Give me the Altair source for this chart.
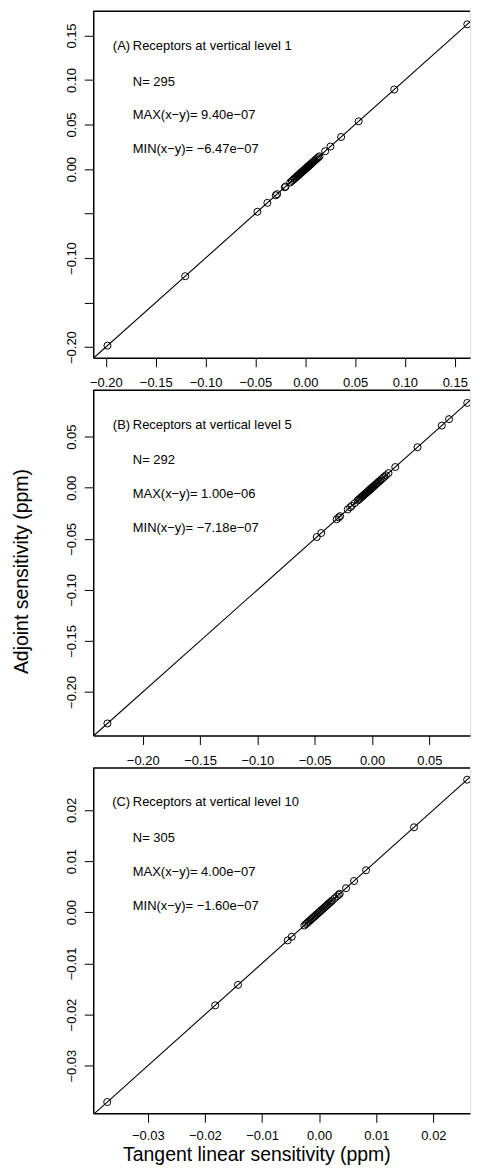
import altair as alt
import pandas as pd

FONT = "Liberation Sans"

# ---------------- data ----------------
# Panel A : receptors at vertical level 1
tangent_a = [-0.1984, -0.1204, -0.0480, -0.0380, -0.0295, -0.0282, -0.0205, -0.0197, -0.0150,
             -0.0134, -0.0122, -0.0110, -0.0100, -0.0090, -0.0082, -0.0074, -0.0066, -0.0058,
             -0.0050, -0.0043, -0.0036, -0.0030, -0.0024, -0.0018, -0.0012, -0.0007, -0.0002,
             0.0003, 0.0008, 0.0014, 0.0020, 0.0027, 0.0034, 0.0041, 0.0049, 0.0057, 0.0066,
             0.0075, 0.0085, 0.0096, 0.0108, 0.0120, 0.0132, 0.0143, 0.0200, 0.0253, 0.0360,
             0.0536, 0.0893, 0.1626]
adjoint_a = [-0.1984, -0.1204, -0.0480, -0.0380, -0.0295, -0.0282, -0.0205, -0.0197, -0.0150,
             -0.0134, -0.0122, -0.0110, -0.0100, -0.0090, -0.0082, -0.0074, -0.0066, -0.0058,
             -0.0050, -0.0043, -0.0036, -0.0030, -0.0024, -0.0018, -0.0012, -0.0007, -0.0002,
             0.0003, 0.0008, 0.0014, 0.0020, 0.0027, 0.0034, 0.0041, 0.0049, 0.0057, 0.0066,
             0.0075, 0.0085, 0.0096, 0.0108, 0.0120, 0.0132, 0.0143, 0.0200, 0.0253, 0.0360,
             0.0536, 0.0893, 0.1626]

# Panel B : receptors at vertical level 5
tangent_b = [-0.2308, -0.0482, -0.0443, -0.0308, -0.0290, -0.0278, -0.0212, -0.0191, -0.0177,
             -0.0150, -0.0125, -0.0115, -0.0106, -0.0097, -0.0089, -0.0081, -0.0073, -0.0065,
             -0.0058, -0.0051, -0.0044, -0.0037, -0.0031, -0.0025, -0.0019, -0.0013, -0.0007,
             -0.0001, 0.0005, 0.0011, 0.0018, 0.0025, 0.0033, 0.0041, 0.0050, 0.0060, 0.0071,
             0.0083, 0.0095, 0.0107, 0.0122, 0.0144, 0.0203, 0.0397, 0.0609, 0.0672, 0.0831]
adjoint_b = [-0.2308, -0.0482, -0.0443, -0.0308, -0.0290, -0.0278, -0.0212, -0.0191, -0.0177,
             -0.0150, -0.0125, -0.0115, -0.0106, -0.0097, -0.0089, -0.0081, -0.0073, -0.0065,
             -0.0058, -0.0051, -0.0044, -0.0037, -0.0031, -0.0025, -0.0019, -0.0013, -0.0007,
             -0.0001, 0.0005, 0.0011, 0.0018, 0.0025, 0.0033, 0.0041, 0.0050, 0.0060, 0.0071,
             0.0083, 0.0095, 0.0107, 0.0122, 0.0144, 0.0203, 0.0397, 0.0609, 0.0672, 0.0831]

# Panel C : receptors at vertical level 10
tangent_c = [-0.0371, -0.0182, -0.0142, -0.0055, -0.0048, -0.0026, -0.0023, -0.0021, -0.0019,
             -0.0017, -0.0015, -0.0013, -0.0011, -0.0009, -0.0007, -0.0005, -0.0003, -0.0001,
             0.0001, 0.0003, 0.0005, 0.0007, 0.0009, 0.0011, 0.0013, 0.0015, 0.0017, 0.0019,
             0.0021, 0.0023, 0.0027, 0.0031, 0.0034, 0.0036, 0.0047, 0.0061, 0.0082, 0.0166,
             0.0259]
adjoint_c = [-0.0371, -0.0182, -0.0142, -0.0055, -0.0048, -0.0026, -0.0023, -0.0021, -0.0019,
             -0.0017, -0.0015, -0.0013, -0.0011, -0.0009, -0.0007, -0.0005, -0.0003, -0.0001,
             0.0001, 0.0003, 0.0005, 0.0007, 0.0009, 0.0011, 0.0013, 0.0015, 0.0017, 0.0019,
             0.0021, 0.0023, 0.0027, 0.0031, 0.0034, 0.0036, 0.0047, 0.0061, 0.0082, 0.0166,
             0.0259]

# axis ranges and tick values
xdom_a = [-0.2127, 0.1653]
ydom_a = [-0.2120, 0.1777]
ticks_a = [-0.20, -0.15, -0.10, -0.05, 0.00, 0.05, 0.10, 0.15]
hidden_y_a = [-0.05, -0.15]

xdom_b = [-0.2432, 0.0855]
ydom_b = [-0.2426, 0.0961]
ticks_b = [-0.20, -0.15, -0.10, -0.05, 0.00, 0.05]
hidden_y_b = []

xdom_c = [-0.03955, 0.02640]
ydom_c = [-0.0393, 0.0283]
ticks_c = [-0.03, -0.02, -0.01, 0.00, 0.01, 0.02]
hidden_y_c = []

# annotation texts
panel_letters = ["(A)", "(B)", "(C)"]
panel_titles = ["Receptors at vertical level 1", "Receptors at vertical level 5",
                "Receptors at vertical level 10"]
n_texts = ["N= 295", "N= 292", "N= 305"]
max_texts = ["MAX(x\u2212y)= 9.40e\u221207", "MAX(x\u2212y)= 1.00e\u221206", "MAX(x\u2212y)= 4.00e\u221207"]
min_texts = ["MIN(x\u2212y)= \u22126.47e\u221207", "MIN(x\u2212y)= \u22127.18e\u221207",
             "MIN(x\u2212y)= \u22121.60e\u221207"]

x_title = "Tangent linear sensitivity (ppm)"
y_title = "Adjoint sensitivity (ppm)"

W = 378


def txt(s, x, y, align="left"):
    return alt.Chart(pd.DataFrame({"t": [s]})).mark_text(
        align=align, baseline="alphabetic", font=FONT, fontSize=13, color="black"
    ).encode(x=alt.value(x), y=alt.value(y), text="t:N")


def panel(i, tangent, adjoint, xdom, ydom, ticks, hidden, height, show_ytitle, show_xtitle):
    df = pd.DataFrame({"tangent": tangent, "adjoint": adjoint})
    # 1:1 line, kept inside the plotting region
    lo = max(xdom[0], ydom[0])
    hi = min(xdom[1], ydom[1])
    line_df = pd.DataFrame({"tangent": [lo, hi], "adjoint": [lo, hi]})

    if hidden:
        cond = " || ".join(f"abs(datum.value - ({v})) < 1e-9" for v in hidden)
        ylabel_expr = f"({cond}) ? '' : datum.label"
    else:
        ylabel_expr = "datum.label"

    common = dict(
        values=ticks, format=".2f", grid=False,
        domainColor="black", domainWidth=1.5,
        tickColor="black", tickWidth=1, tickSize=9,
        labelFont=FONT, labelFontSize=13, labelColor="black",
        labelOverlap=False, labelFlush=False,
        titleFont=FONT, titleFontSize=19.5, titleColor="black", titleFontWeight="normal",
    )
    if show_xtitle:
        xaxis = alt.Axis(labelPadding=7, title=x_title, titleX=163.7, titleY=47.5,
                         titleAlign="center", titleBaseline="alphabetic", **common)
    else:
        xaxis = alt.Axis(labelPadding=10, title=None, **common)
    yextra = dict(labelAngle=270, labelAlign="center", labelBaseline="bottom",
                  labelPadding=6, labelExpr=ylabel_expr)
    if show_ytitle:
        yaxis = alt.Axis(title=y_title, titleX=-65.5, titleY=182, titleAngle=270,
                         titleAlign="center", titleBaseline="alphabetic", **yextra, **common)
    else:
        yaxis = alt.Axis(title=None, **yextra, **common)

    xenc = alt.X("tangent:Q", scale=alt.Scale(domain=xdom, nice=False, zero=False), axis=xaxis)
    yenc = alt.Y("adjoint:Q", scale=alt.Scale(domain=ydom, nice=False, zero=False), axis=yaxis)

    line = alt.Chart(line_df).mark_line(color="black", strokeWidth=1.1, clip=True).encode(
        x=xenc, y=yenc)
    pts = alt.Chart(df).mark_point(shape="circle", filled=False, color="black", size=50,
                                   strokeWidth=1, opacity=1, clip=True).encode(
        x="tangent:Q", y="adjoint:Q")
    top = alt.Chart(pd.DataFrame({"a": [0]})).mark_rule(color="black", strokeWidth=1.5).encode(
        x=alt.value(0), x2=alt.value(W), y=alt.value(0.5))

    layers = [line, pts, top,
              txt(panel_letters[i], 37, 39, "right"),
              txt(panel_titles[i], 39.7, 39),
              txt(n_texts[i], 39.7, 75),
              txt(max_texts[i], 39.7, 108.5),
              txt(min_texts[i], 39.7, 143)]
    return alt.layer(*layers).properties(width=W, height=height)


pa = panel(0, tangent_a, adjoint_a, xdom_a, ydom_a, ticks_a, hidden_y_a, 348, False, False)
pb = panel(1, tangent_b, adjoint_b, xdom_b, ydom_b, ticks_b, hidden_y_b, 347, True, False)
pc = panel(2, tangent_c, adjoint_c, xdom_c, ydom_c, ticks_c, hidden_y_c, 347, False, True)

chart = alt.vconcat(pa, pb, pc, spacing=32, bounds="flush").properties(
    padding={"left": 3.5, "top": 0, "right": 0, "bottom": 0}
).configure_view(stroke=None).configure(font=FONT, background="white")

chart.save("out.html", embed_options={"renderer": "svg", "actions": False})
